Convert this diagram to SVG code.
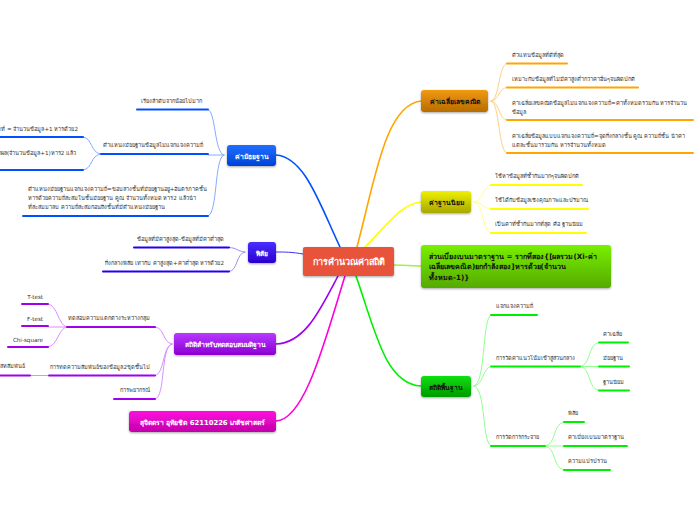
<svg xmlns="http://www.w3.org/2000/svg" width="696" height="520" viewBox="0 0 696 520">
<style>
text{font-family:"DejaVu Sans","Noto Sans",sans-serif;font-size:5.6px;fill:#333}
.t{font-weight:700;font-size:6.800px;fill:#111;text-anchor:middle}
.w{fill:#fff}
.c{fill:none;stroke-width:1;stroke-linecap:round}
.m{fill:none;stroke-width:2;stroke-linecap:round}
.e{text-anchor:end}
.or{stroke:#ffa500}.orl{stroke:#ffd080}
.ye{stroke:#ffff00}.yel{stroke:#ffff88}
.gr{stroke:#00ee00}.grl{stroke:#90ff90}
.bl{stroke:#0050ff}.bll{stroke:#88aaff}
.in{stroke:#2200ee}.inl{stroke:#9a8cf5}
.pu{stroke:#a000ee}.pul{stroke:#d890ff}
</style>
<defs>
<filter id="s" x="-10%" y="-20%" width="120%" height="150%"><feDropShadow dx="0" dy="1" stdDeviation="1" flood-color="#000" flood-opacity=".35"/></filter>
<linearGradient id="go" x1="0" y1="0" x2="0" y2="1"><stop offset="0" stop-color="#f09a10"/><stop offset="1" stop-color="#b86c00"/></linearGradient>
<linearGradient id="gy" x1="0" y1="0" x2="0" y2="1"><stop offset="0" stop-color="#eef000"/><stop offset="1" stop-color="#a8a800"/></linearGradient>
<linearGradient id="gl" x1="0" y1="0" x2="0" y2="1"><stop offset="0" stop-color="#78f000"/><stop offset="1" stop-color="#55aa00"/></linearGradient>
<linearGradient id="gg" x1="0" y1="0" x2="0" y2="1"><stop offset="0" stop-color="#10e010"/><stop offset="1" stop-color="#009a00"/></linearGradient>
<linearGradient id="gb" x1="0" y1="0" x2="0" y2="1"><stop offset="0" stop-color="#2070ff"/><stop offset="1" stop-color="#0040d8"/></linearGradient>
<linearGradient id="gi" x1="0" y1="0" x2="0" y2="1"><stop offset="0" stop-color="#4a30ff"/><stop offset="1" stop-color="#2a00d0"/></linearGradient>
<linearGradient id="gp" x1="0" y1="0" x2="0" y2="1"><stop offset="0" stop-color="#b838ff"/><stop offset="1" stop-color="#8a00d0"/></linearGradient>
<linearGradient id="gm" x1="0" y1="0" x2="0" y2="1"><stop offset="0" stop-color="#ff10e0"/><stop offset="1" stop-color="#c000a8"/></linearGradient>
</defs>
<g id="connectors">
<path class="c" style="stroke:#ffa500;stroke-width:1.6" d="M357 247C375 180 385 105 421 101"/>
<path class="c" style="stroke:#ffff00;stroke-width:1.6" d="M365 247C385 228 400 204 421 202"/>
<path class="c" style="stroke:#a0f040;stroke-width:1.6" d="M394 265C405 265 412 266 421 266"/>
<path class="c" style="stroke:#00ee00;stroke-width:1.6" d="M356 276C375 330 385 384 421 386"/>
<path class="c" style="stroke:#0050ff;stroke-width:1.6" d="M340 247C320 205 305 157 276 155"/>
<path class="c" style="stroke:#4030f0;stroke-width:1" d="M303 254C292 252 285 252 276 252"/>
<path class="c" style="stroke:#a000ee;stroke-width:1.6" d="M338 276C320 310 305 343 276 344"/>
<path class="c" style="stroke:#ff00dd;stroke-width:1.6" d="M345 276C325 340 305 420 276 421"/>
<path class="c orl" d="M491 101C500 100 498 65 507 63.500"/><path class="c orl" d="M491 101C500 100 498 88 507 87.500"/><path class="c orl" d="M491 101C500 102 498 119 507 120"/><path class="c orl" d="M491 101C500 102 498 152 507 153"/>
<path class="m or" d="M507 63.500H567M507 87.500H638M507 120H693M507 153H693"/>
<path class="c yel" d="M474 202C484 201 482 186 491 185"/><path class="c yel" d="M474 202C484 203 482 208 491 209"/><path class="c yel" d="M474 202C484 203 482 232 491 233"/>
<path class="m ye" d="M491 185H582M491 209H588M491 233H586"/>
<path class="c grl" d="M474 386C486 384 482 317 491 315"/><path class="c grl" d="M474 386C484 385 482 368 491 366.500"/><path class="c grl" d="M474 386C486 388 482 444 491 446"/>
<path class="c grl" d="M580 366.500C592 365 587 344 599 342.500"/><path class="c grl" d="M580 366.500H599"/><path class="c grl" d="M580 366.500C592 368 587 389 599 390.500"/>
<path class="c grl" d="M545 446C557 444 552 424 564 422"/><path class="c grl" d="M545 446H564"/><path class="c grl" d="M545 446C557 448 552 468 564 470"/>
<path class="m gr" d="M491 315H537M491 366.500H580M599 342.500H628M599 366.500H629M599 390.500H629M491 446H545M564 422H584M564 446H627M564 470H610"/>
<path class="c bll" d="M224 155C214 153 216 111 208 109.500"/><path class="c bll" d="M224 155H208"/><path class="c bll" d="M224 155C214 157 218 214 208 216"/>
<path class="c bll" d="M101 154C90 153 93 138 83 137"/><path class="c bll" d="M101 154C90 155 93 169 83 170"/>
<path class="m bl" d="M137 109.500H208M101 154H208M23 216H208M0 137H83M0 170H83"/>
<path class="c inl" d="M245 252C236 251 238 248 229 247.500"/><path class="c inl" d="M245 252C236 253 238 271 229 271.500"/>
<path class="m in" d="M134 247.500H229M103 271.500H229"/>
<path class="c pul" d="M172 344C162 342 165 328 155 327"/><path class="c pul" d="M172 344C162 346 165 374 155 375.500"/><path class="c pul" d="M172 344C160 346 166 398 155 399"/>
<path class="c pul" d="M67 327C58 326 58 305 48 304"/><path class="c pul" d="M67 327H48"/><path class="c pul" d="M67 327C58 328 58 346 48 347"/><path class="c pul" d="M49 375.500H30"/>
<path class="m pu" d="M67 327H155M49 375.500H155M114 399H155M22 304H48M22 326H48M8 347H48M0 375.500H30"/>
</g>
<g id="n-center"><rect x="303" y="247" width="91" height="29" rx="2" fill="#e8523a" filter="url(#s)"/><text class="t w" x="348.500" y="264.500" style="font-size:9px">การคำนวณค่าสถิติ</text></g>
<g id="n-mean"><rect x="421" y="90" width="67" height="22" rx="3" fill="url(#go)" filter="url(#s)"/><text class="t" x="454.500" y="103.500">ค่าเฉลี่ยเลขคณิต</text></g>
<g id="n-mode"><rect x="421" y="191" width="50" height="22" rx="3" fill="url(#gy)" filter="url(#s)"/><text class="t" x="446" y="204.500">ค่าฐานนิยม</text></g>
<g id="n-sd"><rect x="421" y="245" width="190" height="43" rx="3" fill="url(#gl)" filter="url(#s)"/><text class="t" style="text-anchor:start;font-size:7.200px" x="429" y="258.500">ส่วนเบี่ยงเบนมาตราฐาน = รากที่สอง{[ผลรวม(Xi-ค่า</text><text class="t" style="text-anchor:start;font-size:7.200px" x="429" y="269">เฉลี่ยเลขคณิต)ยกกำลังสอง]หารด้วย(จำนวน</text><text class="t" style="text-anchor:start;font-size:7.200px" x="429" y="280">ทั้งหมด-1)}</text></g>
<g id="n-basic"><rect x="421" y="376" width="50" height="21" rx="3" fill="url(#gg)" filter="url(#s)"/><text class="t" x="446" y="389.500">สถิติพื้นฐาน</text></g>
<g id="n-median"><rect x="227" y="145" width="49" height="21" rx="3" fill="url(#gb)" filter="url(#s)"/><text class="t w" x="251.500" y="158.500">ค่ามัธยฐาน</text></g>
<g id="n-range"><rect x="248" y="242" width="28" height="21" rx="3" fill="url(#gi)" filter="url(#s)"/><text class="t w" x="262" y="255.500">พิสัย</text></g>
<g id="n-test"><rect x="174" y="333" width="102" height="22" rx="3" fill="url(#gp)" filter="url(#s)"/><text class="t w" x="225" y="346.500">สถิติสำหรับทดสอบสมมติฐาน</text></g>
<g id="n-author"><rect x="129" y="411" width="147" height="21" rx="3" fill="url(#gm)" filter="url(#s)"/><text class="t w" x="202.500" y="424.500">สุจิตตรา อุทัยชิต 62110226 เภสัชศาสตร์</text></g>
<g id="n-labels">
<text x="512" y="57">ตัวแทนข้อมูลที่ดีที่สุด</text>
<text x="512" y="81">เหมาะกับข้อมูลที่ไม่มีค่าสูงต่ำกว่าค่าอื่นๆจนผิดปกติ</text>
<text x="512" y="105">ค่าเฉลี่ยเลขคณิตข้อมูลไม่แจกแจงความถี่=ค่าทั้งหมดรวมกัน หารจำนวน</text><text x="512" y="114">ข้อมูล</text>
<text x="512" y="138">ค่าเฉลี่ยข้อมูลแบบแจกแจงความถี่=จุดกึ่งกลางชั้น คูณ ความถี่ชั้น นำค่า</text><text x="512" y="147">แต่ละชั้นมารวมกัน หารจำนวนทั้งหมด</text>
<text x="495" y="178">ใช้หาข้อมูลที่ซ้ำกันมากๆจนผิดปกติ</text>
<text x="495" y="202">ใช้ได้กับข้อมูลเชิงคุณภาพและปริมาณ</text>
<text x="495" y="226">เป็นค่าที่ซ้ำกันมากที่สุด คือ ฐานนิยม</text>
<text x="496" y="308">แจกแจงความถี่</text>
<text x="496" y="360">การวัดค่าแนวโน้มเข้าสู่ส่วนกลาง</text>
<text x="603" y="336">ค่าเฉลี่ย</text><text x="603" y="360">มัธยฐาน</text><text x="603" y="384">ฐานนิยม</text>
<text x="496" y="439">การวัดการกระจาย</text>
<text x="568" y="415">พิสัย</text><text x="568" y="439">ค่าเบี่ยงเบนมาตราฐาน</text><text x="568" y="463">ความแปรปรวน</text>
<text class="e" x="202" y="103">เรียงลำดับจากน้อยไปมาก</text>
<text class="e" x="203" y="147">ตำแหน่งมัธยฐานข้อมูลไม่แจกแจงความถี่</text>
<text class="e" x="78" y="131">ตำแหน่งที่ = จำนวนข้อมูล+1 หารด้วย2</text>
<text class="e" x="76" y="155">นำมาบวกผล(จำนวนข้อมูล+1)หาร2 แล้ว</text>
<text x="28" y="191">ตำแหน่งมัธยฐานแจกแจงความถี่=ขอบล่างชั้นที่มัธยฐานอยู่+อันตรภาคชั้น</text><text x="28" y="200">หารด้วยความถี่สะสมในชั้นมัธยฐาน คูณ จำนวนทั้งหมด หาร2 แล้วนำ</text><text x="28" y="209">ที่สะสมมาลบ ความถี่สะสมก่อนถึงชั้นที่มีตำแหน่งมัธยฐาน</text>
<text class="e" x="224" y="241">ข้อมูลที่มีค่าสูงสุด-ข้อมูลที่มีค่าต่ำสุด</text>
<text class="e" x="224" y="265">กึ่งกลางพิสัย เท่ากับ ค่าสูงสุด+ค่าต่ำสุด หารด้วย2</text>
<text class="e" x="150" y="320">ทดสอบความแตกต่างระหว่างกลุ่ม</text>
<text class="e" x="150" y="369">การทดความสัมพันธ์ของข้อมูล2ชุดขึ้นไป</text>
<text class="e" x="150" y="392">การพยากรณ์</text>
<text class="e" x="43" y="299">T-test</text><text class="e" x="43" y="321">F-test</text><text class="e" x="43" y="342">Chi-square</text>
<text class="e" x="25" y="368">สหสัมพันธ์</text>
</g>
</svg>
